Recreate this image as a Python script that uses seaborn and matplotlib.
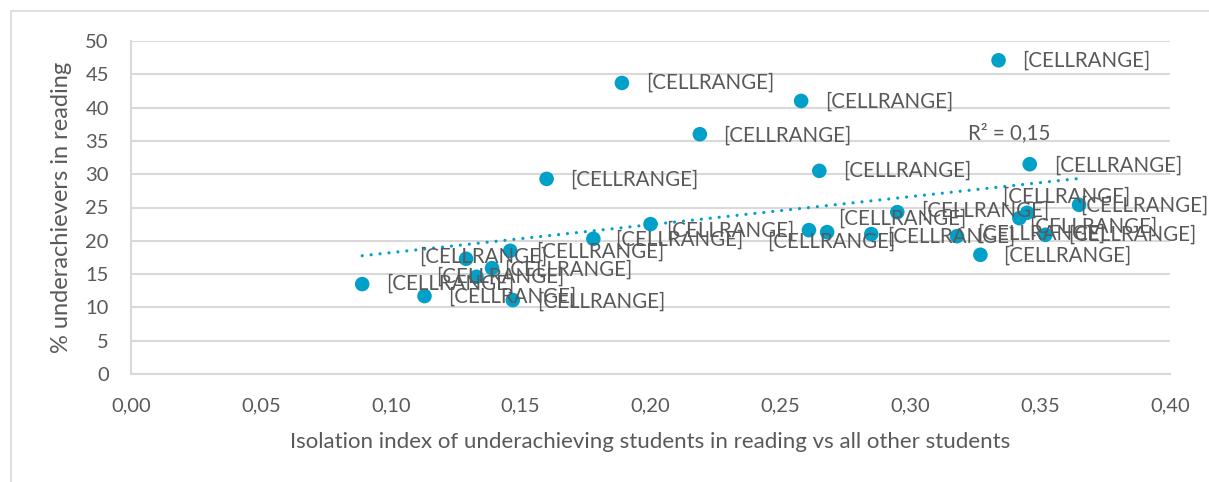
import numpy as np
import pandas as pd
import matplotlib.pyplot as plt
from matplotlib.patches import Rectangle
from matplotlib.ticker import FuncFormatter, MultipleLocator
import seaborn as sns

# Values
isolation = [0.089, 0.113, 0.129, 0.133, 0.139, 0.146, 0.147, 0.160, 0.178,
             0.189, 0.200, 0.219, 0.258, 0.261, 0.265, 0.268, 0.285, 0.295,
             0.318, 0.327, 0.334, 0.342, 0.345, 0.346, 0.352, 0.365]
underachievers = [13.5, 11.7, 17.3, 14.6, 15.9, 18.5, 11.1, 29.3, 20.3,
                  43.7, 22.5, 36.0, 41.0, 21.6, 30.5, 21.3, 21.0, 24.3,
                  20.7, 17.9, 47.1, 23.4, 24.2, 31.5, 20.9, 25.4]
point_labels = ["[CELLRANGE]"] * len(isolation)
r2_text = "R² = 0,15"

# label placement (pixels right / up from the marker)
label_offsets = [(24, 0), (24, -1), (-47, 2), (-40, 0), (12, -2), (26, -1),
                 (24, -2), (24, -1), (22, -1), (24, 0), (16, -7), (23, -1),
                 (24, -1), (-42, -12), (24, 0), (11, 13), (16, -3), (24, 1),
                 (20, 2), (23, -1), (24, 0), (-17, 21), (2, -14), (24, -1),
                 (23, 0), (1, -1)]

df = pd.DataFrame({"isolation": isolation, "under": underachievers})

blue = "#00A0C9"
grey_text = "#595959"
grid_col = "#D9D9D9"

sns.set_style("white")
plt.rcParams["font.family"] = ["Lato", "DejaVu Sans"]

W, H = 1209, 482
fig = plt.figure(figsize=(W / 100, H / 100), dpi=100)
ax = fig.add_axes([131 / W, 1 - 374 / H, (1170 - 131) / W, (374 - 41) / H])

# chart frame
fig.patches.append(Rectangle((11 / W, -0.1), 1.2, (H - 11) / H + 0.1,
                             transform=fig.transFigure, fill=False,
                             edgecolor=grid_col, lw=1.2))

sns.scatterplot(data=df, x="isolation", y="under", ax=ax, s=110,
                color=blue, edgecolor="none", zorder=3)

# linear trend line
slope, intercept = np.polyfit(df["isolation"], df["under"], 1)
xs = np.array([df["isolation"].min(), df["isolation"].max()])
ax.plot(xs, slope * xs + intercept, color=blue, lw=2.3,
        linestyle=(0, (0.01, 2.8)), dash_capstyle="round", zorder=2)

for xv, yv, lab, (dx, dy) in zip(isolation, underachievers, point_labels, label_offsets):
    ax.annotate(lab, (xv, yv), xytext=(dx, dy), textcoords="offset pixels",
                ha="left", va="center", fontsize=14.8, color=grey_text, zorder=4)

ax.text(0.3222, 36.2, r2_text, ha="left", va="center", fontsize=14.8, color=grey_text)

ax.set_xlim(0, 0.40)
ax.set_ylim(0, 50)
ax.xaxis.set_major_locator(MultipleLocator(0.05))
ax.yaxis.set_major_locator(MultipleLocator(5))
ax.xaxis.set_major_formatter(FuncFormatter(lambda v, p: f"{v:.2f}".replace(".", ",")))
ax.yaxis.set_major_formatter(FuncFormatter(lambda v, p: f"{v:.0f}"))
ax.tick_params(axis="both", length=0, labelsize=14.5, labelcolor=grey_text)
ax.tick_params(axis="y", pad=16)
ax.tick_params(axis="x", pad=17)

ax.grid(axis="y", color=grid_col, lw=1.5)
ax.grid(axis="x", visible=False)
ax.set_axisbelow(True)
for side in ["top", "right"]:
    ax.spines[side].set_visible(False)
for side in ["left", "bottom"]:
    ax.spines[side].set_color(grid_col)
    ax.spines[side].set_linewidth(1.5)

ax.set_xlabel("Isolation index of underachieving students in reading vs all other students",
              fontsize=16, color=grey_text)
ax.set_ylabel("% underachievers in reading", fontsize=17, color=grey_text)
ax.xaxis.set_label_coords(0.5, -0.175)
ax.yaxis.set_label_coords(-0.057, 0.5)

fig.savefig("out.png", dpi=100)
